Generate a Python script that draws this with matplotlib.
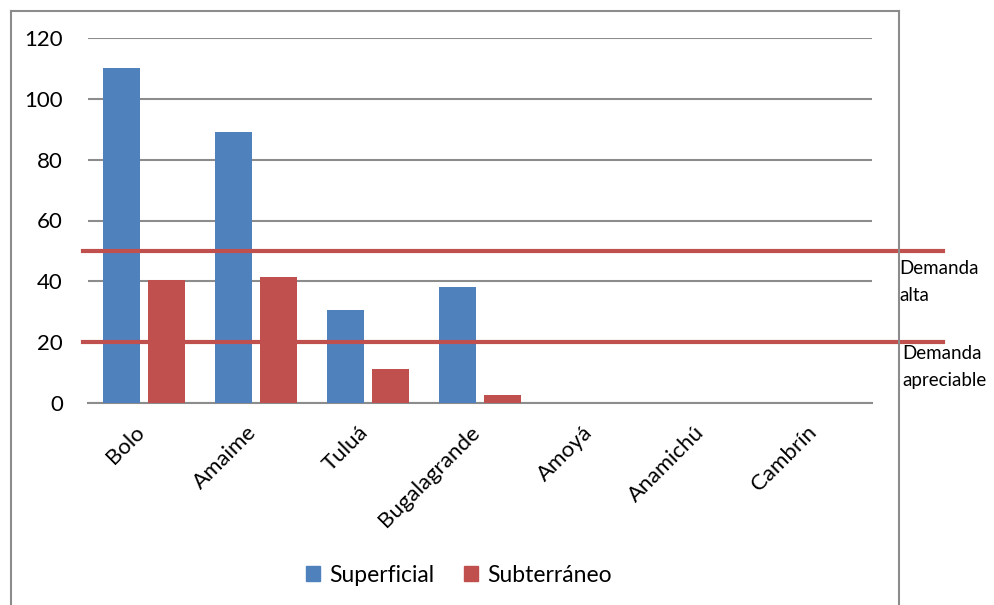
import matplotlib
matplotlib.use("Agg")
import matplotlib.pyplot as plt
import numpy as np
from matplotlib.lines import Line2D
from matplotlib.patches import Patch
from matplotlib.transforms import ScaledTranslation

categories = ["Bolo", "Amaime", "Tuluá", "Bugalagrande", "Amoyá", "Anamichú", "Cambrín"]
superficial = [110, 89, 30.7, 38.2, 0, 0, 0]
subterraneo = [40.5, 41.5, 11.3, 2.6, 0, 0, 0]
yticks = [0, 20, 40, 60, 80, 100, 120]
thresholds = [50, 20]
threshold_labels = ["Demanda\nalta", "Demanda\napreciable"]

plt.rcParams['font.family'] = ['Lato', 'DejaVu Sans']

W, H = 994, 605
fig = plt.figure(figsize=(W / 100, H / 100), dpi=100)
ax = fig.add_axes([88 / W, 1 - 403 / H, (872 - 88) / W, (403 - 38) / H])

blue = "#4f81bd"
red = "#c0504d"
grid = "#8c8c8c"

x = np.arange(len(categories))
bw = 0.33
off = 0.205
ax.bar(x - off, superficial, bw, color=blue, zorder=3)
ax.bar(x + off, subterraneo, bw, color=red, zorder=3)

ax.set_xlim(-0.5, len(categories) - 0.5)
ax.set_ylim(0, 120)
ax.set_yticks(yticks)
ax.set_yticklabels([str(v) for v in yticks], fontsize=16)
ax.yaxis.grid(True, color=grid, linewidth=1.5, zorder=0)
ax.set_axisbelow(True)
for s in ["top", "right", "left"]:
    ax.spines[s].set_visible(False)
ax.spines["bottom"].set_color(grid)
ax.spines["bottom"].set_linewidth(1.5)
ax.tick_params(axis="both", length=0)
ax.tick_params(axis="y", pad=18)
ax.set_xticks(x)
ax.set_xticklabels(categories, rotation=45, ha="right", va="top",
                   rotation_mode="anchor", fontsize=16)
ax.tick_params(axis="x", pad=14)
shift = ScaledTranslation(-0.1, 0, fig.dpi_scale_trans)
for lab in ax.get_xticklabels():
    lab.set_transform(lab.get_transform() + shift)

# threshold lines
x0 = (83 - 88) / (872 - 88)
x1 = (943 - 88) / (872 - 88)
for t in thresholds:
    ax.axhline(t, xmin=x0, xmax=x1, color=red, linewidth=3, clip_on=False, zorder=5)

fig.text(899 / W, 1 - 282 / H, threshold_labels[0], fontsize=13.5, va="center",
         ha="left", linespacing=1.75)
fig.text(902 / W, 1 - 367 / H, threshold_labels[1], fontsize=13.5, va="center",
         ha="left", linespacing=1.75)

# chart frame
fc = "#8c8c8c"
fig.add_artist(Line2D([11 / W, 11 / W], [0, 1 - 11 / H], color=fc, lw=1.5, transform=fig.transFigure))
fig.add_artist(Line2D([11 / W, 899 / W], [1 - 11 / H, 1 - 11 / H], color=fc, lw=1.5, transform=fig.transFigure))
fig.add_artist(Line2D([899 / W, 899 / W], [0, 1 - 11 / H], color=fc, lw=1.5, transform=fig.transFigure))

handles = [Patch(color=blue, label="Superficial"), Patch(color=red, label="Subterráneo")]
fig.legend(handles=handles, loc="center", bbox_to_anchor=(459 / W, 1 - 575 / H), ncol=2,
           frameon=False, fontsize=16.5, handlelength=0.6, handleheight=0.6,
           handletextpad=0.4, columnspacing=1.3)

fig.savefig("out.png", dpi=100)
